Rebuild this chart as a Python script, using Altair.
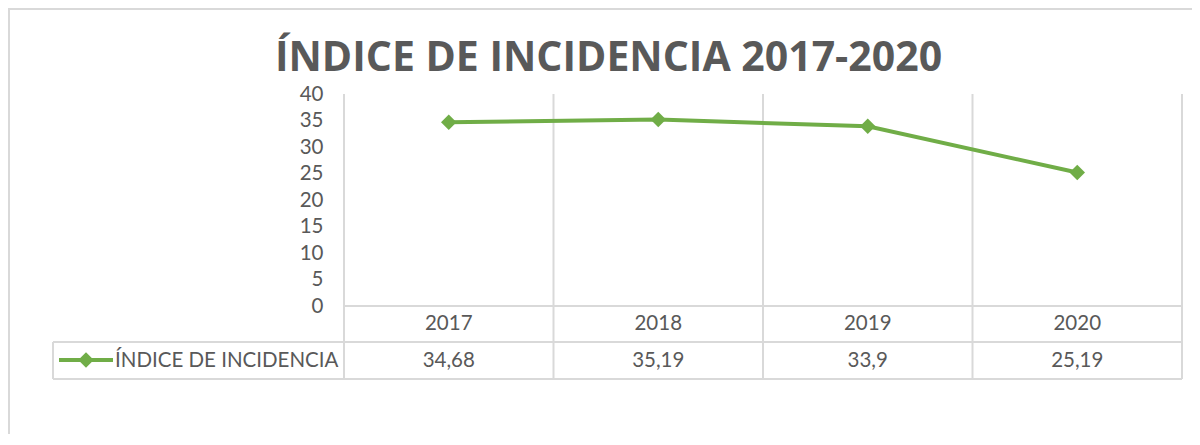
import altair as alt
import pandas as pd

# ---- data ----
years = [2017, 2018, 2019, 2020]
valores = [34.68, 35.19, 33.9, 25.19]
serie = "ÍNDICE DE INCIDENCIA"
titulo = "ÍNDICE DE INCIDENCIA 2017-2020"
y_ticks = [0, 5, 10, 15, 20, 25, 30, 35, 40]

df = pd.DataFrame({"anio": years, "valor": valores})
bounds = pd.DataFrame({"b": [y - 0.5 for y in years] + [years[-1] + 0.5]})
one = pd.DataFrame({"serie": [serie], "titulo": [titulo]})

GRID = "#d9d9d9"
TXT = "#595959"
GREEN = "#70ad47"
FONT = "Lato"
FS = 20.5

W, H = 838, 212

xscale = alt.Scale(domain=[years[0] - 0.5, years[-1] + 0.5], nice=False, zero=False)
yscale = alt.Scale(domain=[0, 40], nice=False)
yaxis = alt.Axis(values=y_ticks, title=None, domain=False, ticks=False,
                 grid=False, labelPadding=21, labelFont=FONT, labelOverlap=False,
                 labelFontSize=FS, labelColor=TXT)


def X(field):
    return alt.X(field, scale=xscale, axis=None)


def Y(field):
    return alt.Y(field, scale=yscale, axis=yaxis)


line = alt.Chart(df).mark_line(color=GREEN, strokeWidth=4).encode(
    x=X("anio:Q"), y=Y("valor:Q"),
)
points = alt.Chart(df).mark_point(shape="diamond", filled=True, size=240, color=GREEN, opacity=1).encode(
    x=X("anio:Q"), y=Y("valor:Q"),
)

vrules = alt.Chart(bounds).mark_rule(color=GRID, strokeWidth=2).encode(
    x=X("b:Q"), y=alt.value(0), y2=alt.value(285)
)


def hrule(x0, x1, y, color=GRID, w=2):
    return alt.Chart(one).mark_rule(color=color, strokeWidth=w).encode(
        x=alt.value(x0), x2=alt.value(x1), y=alt.value(y), detail="serie:N"
    )


def vrule(x, y0, y1):
    return alt.Chart(one).mark_rule(color=GRID, strokeWidth=2).encode(
        x=alt.value(x), y=alt.value(y0), y2=alt.value(y1), detail="serie:N"
    )


zero_line = hrule(0, W, H)
row1 = hrule(-291, W, 248)
row2 = hrule(-291, W, 285)
legcell = vrule(-291, 248, 285)

years_txt = alt.Chart(df).mark_text(font=FONT, fontSize=FS, color=TXT, baseline="middle").encode(
    x=X("anio:Q"), y=alt.value(230), text="anio:N"
)
vals_txt = alt.Chart(df).transform_calculate(
    etiqueta="replace(toString(datum.valor), '.', ',')"
).mark_text(font=FONT, fontSize=FS, color=TXT, baseline="middle").encode(
    x=X("anio:Q"), y=alt.value(267), text="etiqueta:N"
)

leg_line = hrule(-285, -231, 266, GREEN, 4)
leg_pt = alt.Chart(one).mark_point(shape="diamond", filled=True, size=240, color=GREEN, opacity=1).encode(
    x=alt.value(-258), y=alt.value(266), detail="serie:N"
)
leg_txt = alt.Chart(one).mark_text(font=FONT, fontSize=FS, color=TXT, align="left", baseline="middle").encode(
    x=alt.value(-229), y=alt.value(267), text="serie:N"
)

title_txt = alt.Chart(one).mark_text(font="Open Sans", fontSize=41, fontWeight="bold", color=TXT,
                                     align="center", baseline="alphabetic").encode(
    x=alt.value(264.5), y=alt.value(-23), text="titulo:N"
)

frame_top = hrule(-336, 900, -85)
frame_left = vrule(-335, -85, 400)

chart = alt.layer(
    frame_top, frame_left, vrules, zero_line, row1, row2, legcell,
    years_txt, vals_txt, leg_line, leg_pt, leg_txt, title_txt, line, points
).properties(
    width=W, height=H,
    autosize=alt.AutoSizeParams(type="none"),
    padding={"left": 336, "top": 86, "right": 10, "bottom": 128},
    background="white",
).configure_view(stroke=None)

chart.save("out.html", embed_options={"renderer": "svg", "actions": False})
